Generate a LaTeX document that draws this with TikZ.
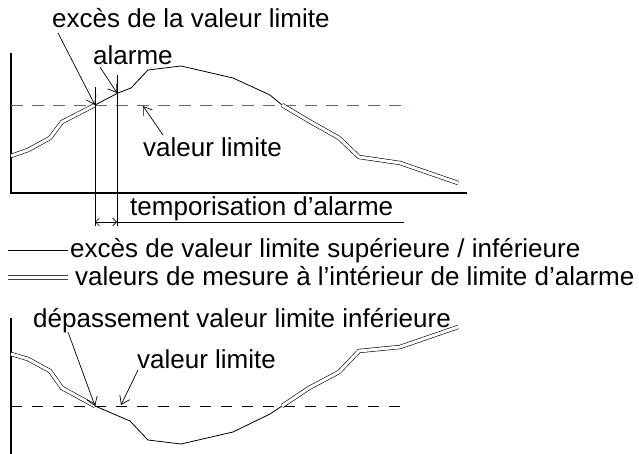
\documentclass[tikz,border=0pt]{standalone}
\usepackage{fontspec}
\setmainfont{Liberation Sans}
\usetikzlibrary{arrows.meta}
\begin{document}
\begin{tikzpicture}[x=1pt,y=-1pt,
  lbl/.style={anchor=base west,inner sep=0pt,font=\fontsize{26}{31}\selectfont},
  axis/.style={line width=2pt},
  thinline/.style={line width=0.8pt},
  dbl/.style={double,double distance=3pt,line width=0.6pt},
  ptr/.style={line width=0.7pt,-{Straight Barb[length=8pt,width=11pt]}},
  dim/.style={line width=0.7pt,{Straight Barb[length=4pt,width=8pt]}-{Straight Barb[length=4pt,width=8pt]}},
  lim/.style={line width=0.9pt,dash pattern=on 12pt off 9pt}]
\useasboundingbox (0,0) rectangle (639,454);

% ---------- top chart ----------
\draw[axis] (11,53) -- (11,193) -- (467,193);
\draw[lim,black!60] (11,105) -- (410,105);
\coordinate (c1) at (95,105);
\coordinate (c2) at (118,93);
\coordinate (c3) at (282,105);
\draw[dbl] (11,156) -- (28,150) -- (50,138) -- (62,122) -- (c1);
\draw[thinline] (c1) -- (c2) -- (131,88) -- (148,70) -- (181,66) -- (233,78) -- (270,95) -- (c3);
\draw[dbl] (c3) -- (309,121) -- (339,138) -- (359,157) -- (400,163) -- (458,183);

% vertical markers and delay
\coordinate (v1t) at (95,87);  \coordinate (v1b) at (95,226);
\coordinate (v2t) at (117,75); \coordinate (v2b) at (117,226);
\draw[thinline] (v1t) -- (v1b);
\draw[thinline] (v2t) -- (v2b);
\coordinate (d1) at (95,222); \coordinate (d2) at (117,222); \coordinate (d3) at (404,222);
\draw[dim] (d1) -- (d2);
\draw[thinline] (d2) -- (d3);

% labels top
\node[lbl] (exc) at (52,28) {excès de la valeur limite};
\node[lbl] (alm) at (93,65) {alarme};
\node[lbl] (vl1) at (143,157) {valeur limite};
\node[lbl] (tmp) at (130,216) {temporisation d’alarme};

\coordinate (a1) at (58,33);
\coordinate (a2) at (100,67);
\coordinate (a3) at (163,135);
\coordinate (t3) at (143,106);
\coordinate (t2) at (117,93);
\draw[ptr] (a1) -- (c1);
\draw[ptr] (a2) -- (t2);
\draw[ptr] (a3) -- (t3);

% ---------- legend ----------
\coordinate (l1a) at (8,250); \coordinate (l1b) at (68,250);
\coordinate (l2a) at (8,275); \coordinate (l2b) at (68,275);
\coordinate (l3a) at (8,279); \coordinate (l3b) at (68,279);
\draw[thinline] (l1a) -- (l1b);
\draw[line width=0.7pt,black!75] (l2a) -- (l2b);
\draw[line width=0.7pt,black!75] (l3a) -- (l3b);
\node[lbl] (leg1) at (70,257) {excès de valeur limite supérieure / inférieure};
\node[lbl] (leg2) at (75,285) {valeurs de mesure à l’intérieur de limite d’alarme};

% ---------- bottom chart ----------
\draw[axis] (11,318) -- (11,454);
\draw[lim,black,dash pattern=on 11pt off 10pt] (11,406) -- (408,406);
\coordinate (b1) at (95,406);
\coordinate (b3) at (282,406);
\draw[dbl] (11,354) -- (28,359) -- (50,371) -- (62,388) -- (b1);
\draw[thinline] (b1) -- (130,421) -- (148,440) -- (181,444) -- (233,432) -- (270,414) -- (b3);
\draw[dbl] (b3) -- (309,388) -- (339,372) -- (359,351) -- (400,347) -- (458,327);

\node[lbl] (dep) at (33,327) {dépassement valeur limite inférieure};
\node[lbl] (vl2) at (137,368) {valeur limite};
\coordinate (a4) at (68,332);
\coordinate (a5) at (138,370);
\coordinate (t5) at (121,405);
\draw[ptr] (a4) -- (b1);
\draw[ptr] (a5) -- (t5);
\end{tikzpicture}
\end{document}
